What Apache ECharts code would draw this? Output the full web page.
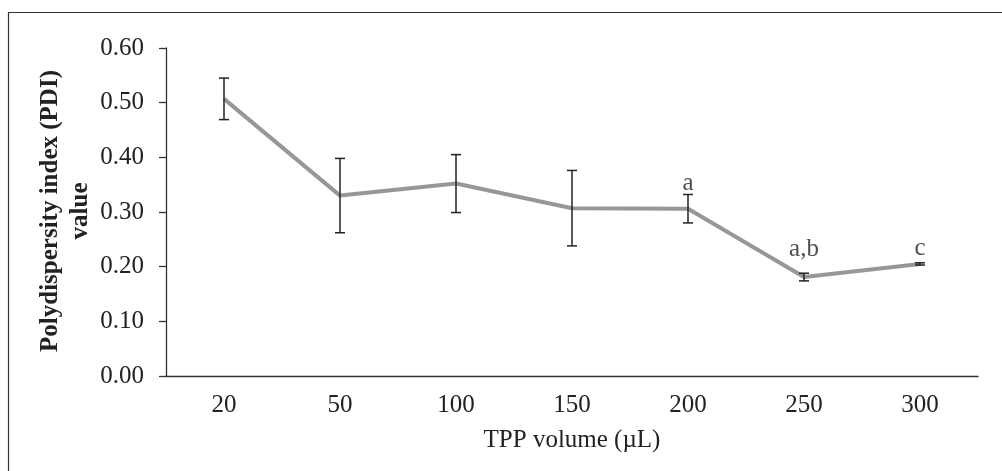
<!DOCTYPE html>
<html>
<head>
<meta charset="utf-8">
<script src="https://cdn.jsdelivr.net/npm/echarts@6/dist/echarts.min.js"></script>
<style>
  html, body { margin: 0; padding: 0; background: #fff; }
  #chart { width: 1002px; height: 471px; }
</style>
</head>
<body>
<div id="chart"></div>
<script>
  // TPP volume (uL) on x, PDI mean and error on y
  var volumes = ['20', '50', '100', '150', '200', '250', '300'];
  var pdiMean = [0.507, 0.330, 0.352, 0.307, 0.306, 0.181, 0.205];
  var pdiErr = [0.038, 0.068, 0.053, 0.069, 0.026, 0.007, 0.002];
  // significance letters and the y value they sit at
  var notes = ['', '', '', '', 'a', 'a,b', 'c'];
  var noteY = [null, null, null, null, 0.353, 0.231, 0.234];

  var serif = '"Liberation Serif", "DejaVu Serif", serif';
  var ink = '#333333';

  var errData = volumes.map(function (v, i) {
    return [i, pdiMean[i] - pdiErr[i], pdiMean[i] + pdiErr[i]];
  });
  var noteData = [];
  volumes.forEach(function (v, i) {
    if (notes[i]) noteData.push({ value: [i, noteY[i]], note: notes[i] });
  });

  var myChart = echarts.init(document.getElementById('chart'));
  var option = {
    animation: false,
    backgroundColor: '#fff',
    grid: { left: 166, right: 24, top: 48, bottom: 95, outerBoundsMode: 'none' },
    xAxis: {
      type: 'category',
      data: volumes,
      boundaryGap: true,
      name: 'TPP volume (\u00b5L)',
      nameLocation: 'middle',
      nameGap: 52,
      nameTextStyle: { fontFamily: serif, fontSize: 25, color: '#222' },
      axisLine: { lineStyle: { color: ink, width: 1.3 } },
      axisTick: { show: false },
      axisLabel: { fontFamily: serif, fontSize: 25, color: '#222', margin: 17 },
      splitLine: { show: false }
    },
    yAxis: {
      type: 'value',
      min: 0,
      max: 0.6,
      interval: 0.1,
      axisLine: { show: true, lineStyle: { color: ink, width: 1.3 } },
      axisTick: { show: true, length: 7, lineStyle: { color: ink, width: 1.3 } },
      axisLabel: {
        fontFamily: serif, fontSize: 25, color: '#222', margin: 22,
        formatter: function (v) { return v.toFixed(2); }
      },
      splitLine: { show: false }
    },
    graphic: [
      {
        type: 'rect',
        shape: { x: 8.5, y: 12.5, width: 1200, height: 1000 },
        style: { fill: 'none', stroke: ink, lineWidth: 1.2 },
        silent: true
      },
      {
        type: 'text',
        x: 51, y: 211,
        rotation: Math.PI / 2,
        style: {
          text: 'Polydispersity index (PDI)',
          fontFamily: serif, fontSize: 25, fontWeight: 'bold', fill: '#222',
          align: 'center', verticalAlign: 'middle'
        }
      },
      {
        type: 'text',
        x: 81, y: 211,
        rotation: Math.PI / 2,
        style: {
          text: 'value',
          fontFamily: serif, fontSize: 25, fontWeight: 'bold', fill: '#222',
          align: 'center', verticalAlign: 'middle'
        }
      }
    ],
    series: [
      {
        name: 'PDI',
        type: 'line',
        data: pdiMean,
        symbol: 'none',
        lineStyle: { color: '#979797', width: 4 },
        z: 2
      },
      {
        name: 'error',
        type: 'custom',
        data: errData,
        z: 3,
        renderItem: function (params, api) {
          var x = api.value(0);
          var lo = api.coord([x, api.value(1)]);
          var hi = api.coord([x, api.value(2)]);
          var w = 5;
          var st = { stroke: '#222', lineWidth: 1.5 };
          return {
            type: 'group',
            children: [
              { type: 'line', shape: { x1: hi[0], y1: hi[1], x2: lo[0], y2: lo[1] }, style: st },
              { type: 'line', shape: { x1: hi[0] - w, y1: hi[1], x2: hi[0] + w, y2: hi[1] }, style: st },
              { type: 'line', shape: { x1: lo[0] - w, y1: lo[1], x2: lo[0] + w, y2: lo[1] }, style: st }
            ]
          };
        }
      },
      {
        name: 'notes',
        type: 'scatter',
        data: noteData,
        symbolSize: 0,
        z: 4,
        label: {
          show: true,
          position: 'inside',
          fontFamily: serif,
          fontSize: 25,
          color: '#222',
          formatter: function (p) { return p.data.note; }
        }
      }
    ]
  };
  myChart.setOption(option);
</script>
</body>
</html>
